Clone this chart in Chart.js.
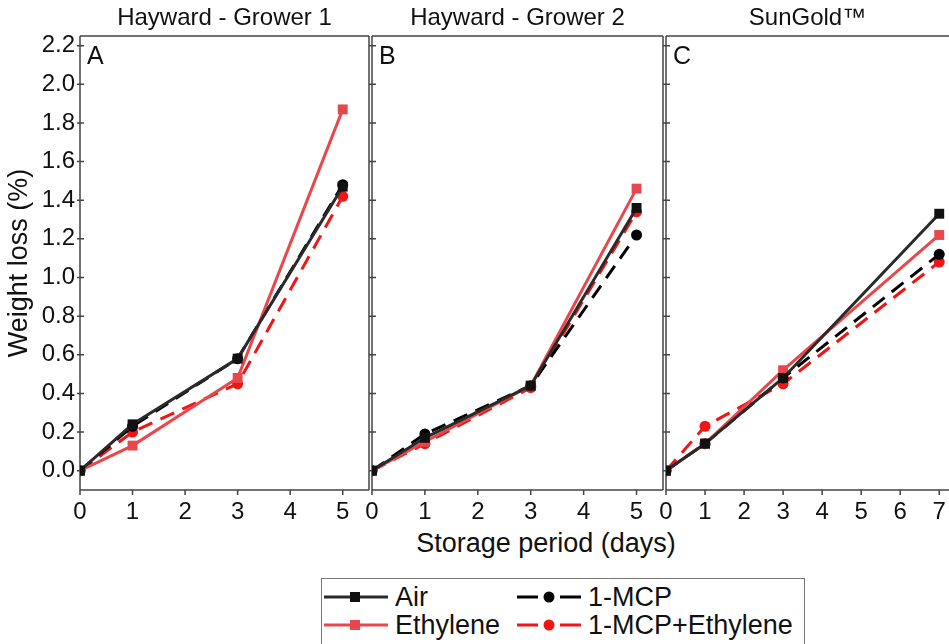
<!DOCTYPE html>
<html>
<head>
<meta charset="utf-8">
<script src="https://cdn.jsdelivr.net/npm/chart.js@4.4.1/dist/chart.umd.min.js"></script>
<style>
  body { margin: 0; background: #fff; width: 949px; height: 644px; overflow: hidden; position: relative;
         font-family: "Liberation Sans", Arial, sans-serif; color: #111; }
  canvas { position: absolute; top: 0; }
  #xtitle { position: absolute; left: 0; width: 1092px; top: 528px; text-align: center; font-size: 27px; }
  #legend { position: absolute; left: 321px; top: 578px; width: 484px; height: 80px;
            border: 1.5px solid #777; box-sizing: border-box; font-size: 27px; }
  .item { position: absolute; display: flex; align-items: center; height: 30px; }
  .item svg { margin-right: 5px; }
</style>
</head>
<body>
<canvas id="panelA" width="376" height="525" style="left:0px"></canvas>
<canvas id="panelB" width="308" height="525" style="left:362px"></canvas>
<canvas id="panelC" width="300" height="525" style="left:656px"></canvas>
<div id="xtitle">Storage period (days)</div>
<div id="legend"></div>
<script>
// storage days per cultivar
const daysA = [0, 1, 3, 5];
const daysB = [0, 1, 3, 5];
const daysC = [0, 1, 3, 7];

// weight loss (%) - Hayward Grower 1
const airA    = [0, 0.24, 0.58, 1.47];
const mcpA    = [0, 0.23, 0.58, 1.48];
const ethA    = [0, 0.13, 0.48, 1.87];
const mcpEthA = [0, 0.20, 0.45, 1.42];

// Hayward Grower 2
const airB    = [0, 0.17, 0.44, 1.36];
const mcpB    = [0, 0.19, 0.44, 1.22];
const ethB    = [0, 0.15, 0.44, 1.46];
const mcpEthB = [0, 0.14, 0.43, 1.34];

// SunGold
const airC    = [0, 0.14, 0.48, 1.33];
const mcpC    = [0, 0.14, 0.48, 1.12];
const ethC    = [0, 0.14, 0.52, 1.22];
const mcpEthC = [0, 0.23, 0.45, 1.08];

const treatments = ['Air', 'Ethylene', '1-MCP', '1-MCP+Ethylene'];
const yTicks = [0, 0.2, 0.4, 0.6, 0.8, 1.0, 1.2, 1.4, 1.6, 1.8, 2.0, 2.2];
const xTicksAB = [0, 1, 2, 3, 4, 5];
const xTicksC = [0, 1, 2, 3, 4, 5, 6, 7];

const FONT = '"Liberation Sans", Arial, sans-serif';
const look = {
  'Air':            { line: '#2a2a2a', point: '#111', dash: [],      shape: 'rect',   r: 7 },
  'Ethylene':       { line: '#e8474c', point: '#e8474c', dash: [], shape: 'rect',   r: 7 },
  '1-MCP':          { line: '#000',    point: '#000', dash: [15, 9], shape: 'circle', r: 5.5 },
  '1-MCP+Ethylene': { line: '#f01414', point: '#f01414', dash: [15, 9], shape: 'circle', r: 5.5 }
};

const frame = {
  id: 'frame',
  beforeDatasetsDraw(chart, args, opts) {
    const { ctx, chartArea: a } = chart;
    ctx.save();
    ctx.strokeStyle = '#444';
    ctx.lineWidth = 1.5;
    const right = opts.openRight ? chart.width : a.right;
    ctx.beginPath();
    ctx.moveTo(a.left, a.bottom); ctx.lineTo(a.left, a.top);
    ctx.moveTo(a.left, a.bottom); ctx.lineTo(right, a.bottom);
    ctx.moveTo(a.left, a.top); ctx.lineTo(right, a.top);
    if (!opts.openRight) { ctx.moveTo(a.right, a.top); ctx.lineTo(a.right, a.bottom); }
    const y = chart.scales.y, x = chart.scales.x;
    for (const t of y.ticks) {
      const py = y.getPixelForValue(t.value);
      ctx.moveTo(a.left - 3, py); ctx.lineTo(a.left + 4, py);
    }
    for (const t of x.ticks) {
      const px = x.getPixelForValue(t.value);
      ctx.moveTo(px, a.bottom); ctx.lineTo(px, a.bottom + 5);
    }
    ctx.stroke();
    ctx.restore();
  },
  afterDraw(chart, args, opts) {
    const { ctx, chartArea: a } = chart;
    ctx.save();
    ctx.fillStyle = '#111';
    ctx.textBaseline = 'middle';
    ctx.textAlign = 'center';
    ctx.font = '24px ' + FONT;
    ctx.fillText(opts.title, (a.left + a.right) / 2, 18);
    ctx.textAlign = 'left';
    ctx.font = '25px ' + FONT;
    ctx.fillText(opts.letter, a.left + 7, a.top + 21);
    ctx.restore();
  }
};

function makePanel(id, days, air, mcp, eth, mcpEth, xMax, xTicks, opts) {
  const series = { 'Air': air, 'Ethylene': eth, '1-MCP': mcp, '1-MCP+Ethylene': mcpEth };
  const datasets = treatments.map(name => ({
    label: name,
    data: days.map((d, i) => ({ x: d, y: series[name][i] })),
    borderColor: look[name].line,
    backgroundColor: look[name].point,
    pointBorderColor: look[name].point,
    pointBackgroundColor: look[name].point,
    borderWidth: 3,
    borderDash: look[name].dash,
    pointStyle: look[name].shape,
    pointRadius: look[name].r,
    pointBorderWidth: 0,
    tension: 0
  }));
  return new Chart(document.getElementById(id), {
    type: 'line',
    data: { datasets },
    plugins: [frame],
    options: {
      responsive: false,
      animation: false,
      layout: { padding: { top: 36, right: opts.padRight, left: 0, bottom: 0 } },
      plugins: {
        legend: { display: false },
        tooltip: { enabled: false },
        frame: { title: opts.title, letter: opts.letter, openRight: opts.openRight }
      },
      scales: {
        x: {
          type: 'linear',
          min: 0,
          max: xMax,
          afterBuildTicks: s => { s.ticks = xTicks.map(v => ({ value: v })); },
          afterFit: s => { s.height = 35; s.paddingLeft = 0; s.paddingRight = 0; },
          grid: { display: false, drawTicks: false },
          border: { display: false },
          ticks: { color: '#111', font: { family: FONT, size: 24 }, padding: 8, maxRotation: 0,
                   callback: v => String(v) }
        },
        y: {
          min: -0.1,
          max: 2.25,
          afterBuildTicks: s => { s.ticks = yTicks.map(v => ({ value: v })); },
          afterFit: s => { s.width = opts.yWidth; },
          grid: { display: false, drawTicks: false },
          border: { display: false },
          ticks: { display: opts.showY, color: '#111', font: { family: FONT, size: 24 }, padding: 5,
                   callback: v => v.toFixed(1) },
          title: { display: opts.showY, text: 'Weight loss (%)', color: '#111',
                   font: { family: FONT, size: 27 }, padding: { top: 3, bottom: 0 } }
        }
      }
    }
  });
}

makePanel('panelA', daysA, airA, mcpA, ethA, mcpEthA, 5.5, xTicksAB,
  { title: 'Hayward - Grower 1', letter: 'A', yWidth: 80, showY: true, padRight: 4 });
makePanel('panelB', daysB, airB, mcpB, ethB, mcpEthB, 5.5, xTicksAB,
  { title: 'Hayward - Grower 2', letter: 'B', yWidth: 10, showY: false, padRight: 4 });
makePanel('panelC', daysC, airC, mcpC, ethC, mcpEthC, 7.25, xTicksC,
  { title: 'SunGold\u2122', letter: 'C', yWidth: 10, showY: false, padRight: 1, openRight: true });

// legend
const legendSpots = {
  'Air':            { left: 2,   top: 3 },
  '1-MCP':          { left: 195, top: 3 },
  'Ethylene':       { left: 2,   top: 31 },
  '1-MCP+Ethylene': { left: 195, top: 31 }
};
const legend = document.getElementById('legend');
for (const name of ['Air', '1-MCP', 'Ethylene', '1-MCP+Ethylene']) {
  const s = look[name];
  const dashed = s.dash.length > 0;
  const mark = s.shape === 'rect'
    ? `<rect x="26" y="10" width="10" height="10" fill="${s.point}"/>`
    : `<circle cx="32" cy="15" r="5.5" fill="${s.point}"/>`;
  const line = dashed
    ? `<line x1="0" y1="15" x2="21" y2="15" stroke="${s.line}" stroke-width="3"/><line x1="43" y1="15" x2="64" y2="15" stroke="${s.line}" stroke-width="3"/>`
    : `<line x1="0" y1="15" x2="64" y2="15" stroke="${s.line}" stroke-width="3"/>`;
  const el = document.createElement('div');
  el.className = 'item';
  el.style.left = legendSpots[name].left + 'px';
  el.style.top = legendSpots[name].top + 'px';
  el.innerHTML = `<svg width="66" height="30">${line}${mark}</svg><span>${name}</span>`;
  legend.appendChild(el);
}
</script>
</body>
</html>
